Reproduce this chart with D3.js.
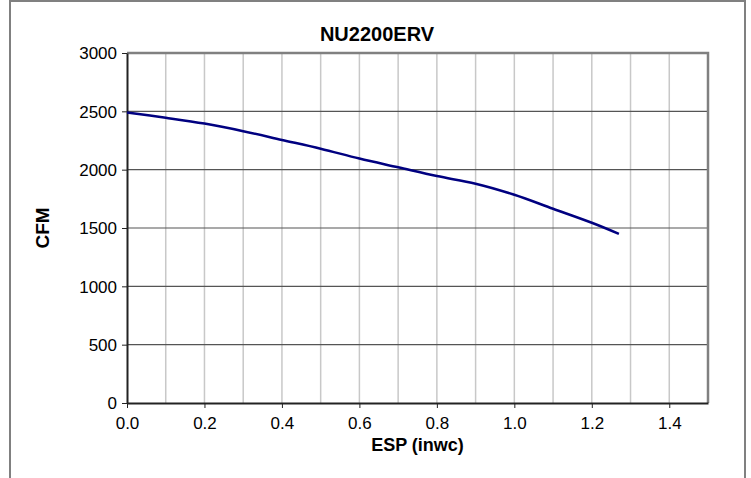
<!DOCTYPE html>
<html>
<head>
<meta charset="utf-8">
<script src="https://cdn.jsdelivr.net/npm/d3@7"></script>
<style>
  body { margin: 0; background: #fff; }
  svg { display: block; font-family: "Liberation Sans", Arial, sans-serif; }
</style>
</head>
<body>
<div id="chart"></div>
<script>
// fan curve
const espValues = [0, 0.1, 0.2, 0.3, 0.4, 0.5, 0.6, 0.7, 0.8, 0.9, 1.0, 1.1, 1.2, 1.27];
const cfmValues = [2490, 2445, 2395, 2330, 2255, 2180, 2095, 2020, 1945, 1880, 1785, 1665, 1545, 1450];
const xTicks = [0, 0.2, 0.4, 0.6, 0.8, 1.0, 1.2, 1.4];
const yTicks = [0, 500, 1000, 1500, 2000, 2500, 3000];

const W = 751, H = 478;
const margin = {top: 53, right: 43, bottom: 75, left: 127};
const width = W - margin.left - margin.right;
const height = H - margin.top - margin.bottom;

const svg = d3.select("#chart").append("svg")
  .attr("width", W)
  .attr("height", H);

// outer chart frame
svg.append("rect")
  .attr("x", 10).attr("y", 1)
  .attr("width", 735).attr("height", H + 10)
  .attr("fill", "none")
  .attr("stroke", "#808080")
  .attr("stroke-width", 2);

const g = svg.append("g")
  .attr("transform", "translate(" + margin.left + "," + margin.top + ")");

const x = d3.scaleLinear().domain([0, 1.5]).range([0, width]);
const y = d3.scaleLinear().domain([0, 3000]).range([height, 0]);

// vertical light gridlines every 0.1
g.append("g")
  .selectAll("line")
  .data(d3.range(1, 15).map(d => d / 10))
  .enter().append("line")
    .attr("x1", d => x(d)).attr("x2", d => x(d))
    .attr("y1", 0).attr("y2", height)
    .attr("stroke", "#c8c8c8")
    .attr("stroke-width", 1.5);

// horizontal major gridlines
g.append("g")
  .selectAll("line")
  .data(yTicks.slice(1, -1))
  .enter().append("line")
    .attr("x1", 0).attr("x2", width)
    .attr("y1", d => y(d)).attr("y2", d => y(d))
    .attr("stroke", "#555")
    .attr("stroke-width", 1.2);

// plot frame top/right
g.append("path")
  .attr("d", "M0,0H" + width + "V" + height)
  .attr("fill", "none")
  .attr("stroke", "#808080")
  .attr("stroke-width", 2.5);

// axes
const xAxis = g.append("g")
  .attr("transform", "translate(0," + height + ")")
  .call(d3.axisBottom(x).tickValues(xTicks).tickFormat(d3.format(".1f")).tickSize(5).tickSizeOuter(0));
const yAxis = g.append("g")
  .call(d3.axisLeft(y).tickValues(yTicks).tickFormat(d3.format("d")).tickSize(5).tickSizeOuter(0));

[xAxis, yAxis].forEach(a => {
  a.select(".domain").attr("stroke", "#222").attr("stroke-width", 2);
  a.selectAll(".tick line").attr("stroke", "#222");
  a.selectAll(".tick text")
    .attr("fill", "#000")
    .style("font-size", "17px")
    .style("font-family", "Liberation Sans, Arial, sans-serif");
});
xAxis.selectAll(".tick text").attr("y", 0).attr("dy", 26);
yAxis.selectAll(".tick text").attr("x", -10).attr("dy", "0.35em");

// curve
const line = d3.line()
  .x((d, i) => x(espValues[i]))
  .y(d => y(d))
  .curve(d3.curveCatmullRom);

g.append("path")
  .datum(cfmValues)
  .attr("fill", "none")
  .attr("stroke", "#000080")
  .attr("stroke-width", 2.5)
  .attr("d", line);

// titles
svg.append("text")
  .attr("x", 377).attr("y", 41)
  .attr("text-anchor", "middle")
  .style("font-size", "20px").style("font-weight", "bold")
  .text("NU2200ERV");

svg.append("text")
  .attr("x", margin.left + width / 2).attr("y", 451)
  .attr("text-anchor", "middle")
  .style("font-size", "18px").style("font-weight", "bold")
  .text("ESP (inwc)");

svg.append("text")
  .attr("transform", "translate(49," + (margin.top + height / 2) + ") rotate(-90)")
  .attr("text-anchor", "middle")
  .style("font-size", "19px").style("font-weight", "bold")
  .text("CFM");
</script>
</body>
</html>
